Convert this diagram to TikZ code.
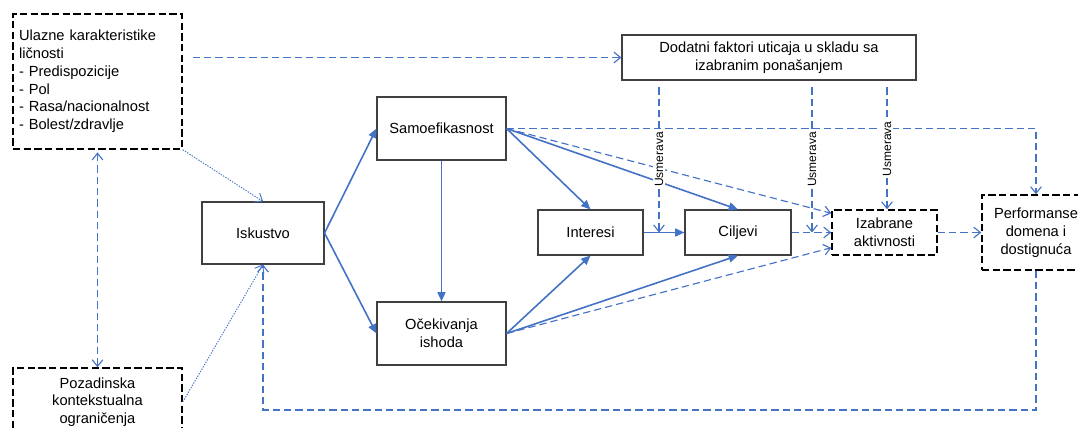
\documentclass[tikz,border=0pt]{standalone}
\usepackage{fontspec}
\setmainfont{Liberation Sans}
\usetikzlibrary{arrows.meta,calc}
\definecolor{linkblue}{RGB}{68,114,196}
\definecolor{boxgray}{RGB}{64,64,64}

\begin{document}
\begin{tikzpicture}[x=0.75pt, y=-0.75pt,
  font=\fontsize{11}{13.3}\selectfont,
  box/.style={draw=boxgray, line width=0.8pt, align=center, inner sep=2pt},
  dbox/.style={draw=black, line width=1.1pt, dash pattern=on 5.5pt off 2.5pt, align=center, inner sep=2pt},
  flow/.style={draw=linkblue, line width=1.2pt, -{Triangle[length=7pt,width=6pt]}},
  weak/.style={draw=linkblue, line width=0.85pt, dash pattern=on 5.5pt off 3pt, -{Straight Barb[length=5pt,width=8pt]}},
  dots/.style={draw=linkblue, line width=0.7pt, dash pattern=on 1pt off 1pt, -{Straight Barb[length=5pt,width=8pt]}},
  lbl/.style={rotate=90, fill=white, inner sep=1pt, font=\fontsize{9}{10}\selectfont}]
  \path[use as bounding box, clip] (0,0) rectangle (1078,428);

  % boxes
  \node [dbox, minimum width=126.75pt, minimum height=101.25pt, align=left, text width=117.75pt, inner xsep=4.5pt] (ulazne) at (97.5,81.5)
    {Ulazne karakteristike\\li\v{c}nosti\\- Predispozicije\\- Pol\\- Rasa/nacionalnost\\- Bolest/zdravlje};
  \node [dbox, minimum width=126.75pt, minimum height=51pt] (pozad) at (97.5,402) {Pozadinska\\kontekstualna\\ograni\v{c}enja};
  \node [box, minimum width=91.5pt, minimum height=46.5pt] (iskustvo) at (263,233) {Iskustvo};
  \node [box, minimum width=96.75pt, minimum height=47.25pt] (samo) at (441.5,128.5) {Samoefikasnost};
  \node [box, minimum width=96.75pt, minimum height=47.25pt] (ocek) at (441.5,333.5) {O\v{c}ekivanja\\ishoda};
  \node [box, minimum width=78.75pt, minimum height=33.75pt] (interesi) at (590.5,232.5) {Interesi};
  \node [box, minimum width=79.5pt, minimum height=33.75pt] (ciljevi) at (738,232.5) {Ciljevi};
  \node [dbox, minimum width=78.75pt, minimum height=33.75pt] (izabrane) at (884.5,232.5) {Izabrane\\aktivnosti};
  \node [dbox, minimum width=81pt, minimum height=56.25pt] (perf) at (1036,232.5) {Performanse\\domena i\\dostignu\'ca};
  \node [box, minimum width=220.5pt, minimum height=33.75pt] (dodatni) at (769,57.5) {Dodatni faktori uticaja u skladu sa\\izabranim pona\v{s}anjem};

  % solid links
  \draw [flow] (iskustvo.east) -- (samo.west);
  \draw [flow] (iskustvo.east) -- (ocek.west);
  \draw [flow] (samo.south) -- (ocek.north);
  \draw [flow] (samo.east) -- (interesi.north);
  \draw [flow] (samo.east) -- (ciljevi.north);
  \draw [flow] (ocek.east) -- (interesi.south);
  \draw [flow] (ocek.east) -- (ciljevi.south);
  \draw [flow] (interesi.east) -- (ciljevi.west);

  % dashed links
  \draw [weak, shorten <=7.5pt] (ulazne.east |- dodatni.west) -- (dodatni.west);
  \draw [weak, {Straight Barb[length=5pt,width=8pt]}-{Straight Barb[length=5pt,width=8pt]}, shorten <=2pt] (ulazne.south) -- (pozad.north);
  \draw [dots] (ulazne.south east) -- (iskustvo.north);
  \draw [dots] (pozad.east) -- (iskustvo.south);
  \draw [weak] (samo.east) -- ([yshift=-3pt]izabrane.north west);
  \draw [weak] (samo.east) -| (perf.north);
  \draw [weak] (ocek.east) -- ([yshift=6pt]izabrane.south west);
  \draw [weak] (ciljevi.east) -- (izabrane.west);
  \draw [weak] (izabrane.east) -- (perf.west);
  \coordinate (back) at (0,410);
  \draw [weak] (perf.south) |- (back -| iskustvo.south) -- (iskustvo.south);

  % usmerava
  \coordinate (u1) at (659,0);
  \coordinate (u2) at (812,0);
  \coordinate (u3) at (887,0);
  \draw [weak, shorten <=5pt] (dodatni.south -| u1) -- node [lbl, pos=0.52] {Usmerava} (interesi.east -| u1);
  \draw [weak, shorten <=5pt] (dodatni.south -| u2) -- node [lbl, pos=0.52] {Usmerava} (ciljevi.east -| u2);
  \draw [weak, shorten <=5pt] (dodatni.south -| u3) -- node [lbl, pos=0.53] {Usmerava} (izabrane.north -| u3);
\end{tikzpicture}
\end{document}
